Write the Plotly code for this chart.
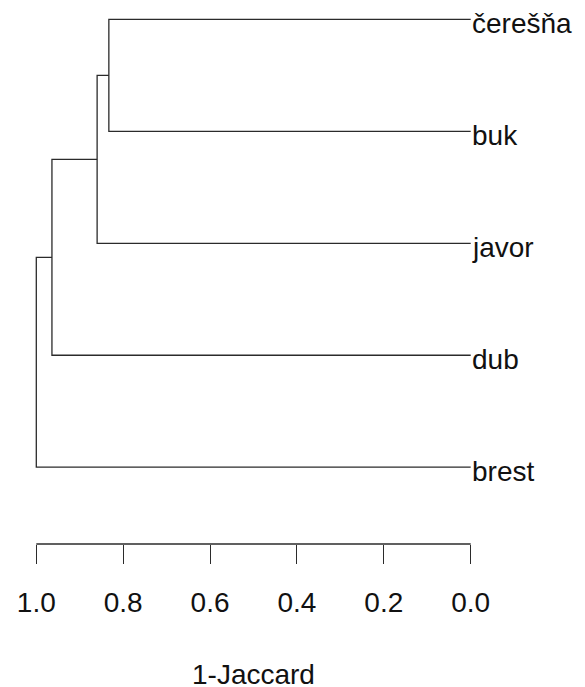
import plotly.graph_objects as go

# Leaves from top to bottom, and their positions on the vertical axis
leaf_labels = ["čerešňa", "buk", "javor", "dub", "brest"]
leaf_pos = [5, 4, 3, 2, 1]

# Merge structure (R hclust style: negative = leaf, positive = earlier merge)
merge_pairs = [(-1, -2), (1, -3), (2, -4), (3, -5)]
merge_heights = [0.833, 0.860, 0.964, 1.0]

tick_vals = [0.0, 0.2, 0.4, 0.6, 0.8, 1.0]
tick_text = ["0.0", "0.2", "0.4", "0.6", "0.8", "1.0"]
axis_title = "1-Jaccard"

LINE = "#2b2b2b"
TXT = "#111111"
FONT = "Liberation Sans, Arial, sans-serif"
FS = 28

node_y = []


def node(i):
    if i < 0:
        return 0.0, leaf_pos[-i - 1]
    return merge_heights[i - 1], node_y[i - 1]


xs, ys = [], []
for (a, b), h in zip(merge_pairs, merge_heights):
    ha, ya = node(a)
    hb, yb = node(b)
    xs += [ha, h, h, hb, None]
    ys += [ya, ya, yb, yb, None]
    node_y.append((ya + yb) / 2)

fig = go.Figure()
fig.add_trace(go.Scatter(x=xs, y=ys, mode="lines",
                         line=dict(color=LINE, width=1.3),
                         hoverinfo="skip", showlegend=False))

annotations = []
for lab, p in zip(leaf_labels, leaf_pos):
    annotations.append(dict(x=0, y=p, xref="x", yref="y", text=lab,
                            showarrow=False, xanchor="left", yanchor="middle",
                            xshift=-1, yshift=-4,
                            font=dict(family=FONT, size=FS, color=TXT)))
annotations.append(dict(x=(min(tick_vals) + max(tick_vals)) / 2, y=0,
                        xref="x", yref="paper", text=axis_title,
                        showarrow=False, xanchor="center", yanchor="top",
                        yshift=-113,
                        font=dict(family=FONT, size=FS, color=TXT)))

fig.update_layout(
    width=577, height=679, autosize=False,
    margin=dict(l=0, r=0, t=0, b=142.7, pad=0),
    plot_bgcolor="white", paper_bgcolor="white",
    showlegend=False,
    annotations=annotations,
    shapes=[dict(type="line", xref="x", yref="paper",
                 x0=min(tick_vals), x1=max(tick_vals), y0=0, y1=0,
                 line=dict(color=LINE, width=1.3))],
    xaxis=dict(range=[1.06515, -0.26312], tickvals=tick_vals, ticktext=tick_text,
               ticks="outside", ticklen=19, tickwidth=1.3, tickcolor=LINE,
               showgrid=False, zeroline=False, showline=False,
               ticklabelstandoff=14,
               tickfont=dict(family=FONT, size=FS, color=TXT)),
    yaxis=dict(range=[0.314, 5.102], visible=False),
)

fig.write_html("out.html")
